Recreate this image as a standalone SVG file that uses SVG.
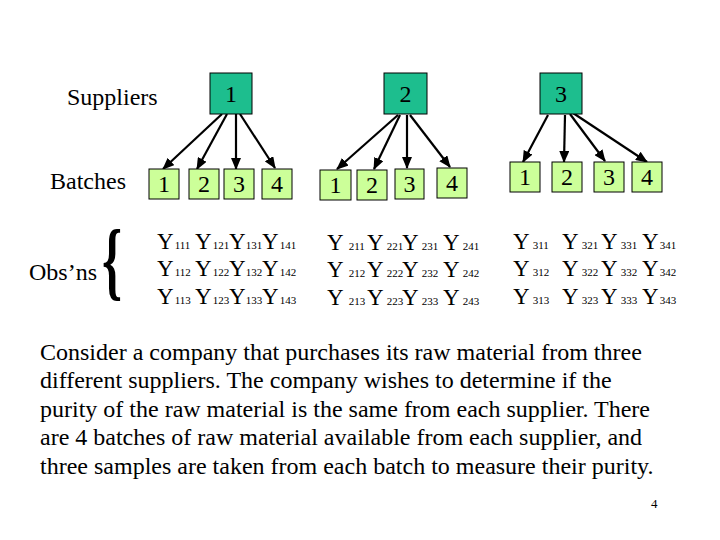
<svg xmlns="http://www.w3.org/2000/svg" width="720" height="540" viewBox="0 0 720 540">
<style>
text{font-family:"Liberation Serif","Times New Roman",serif;fill:#000}
.lbl{font-size:24px}
.num{font-size:24px;text-anchor:middle}
.sup{fill:#1DBE8E;stroke:#000;stroke-width:1}
.bat{fill:#CCFF99;stroke:#000;stroke-width:1}
.y{font-size:23px}
.s{font-size:11px}
.p{font-size:24px}
.arr{stroke:#000;stroke-width:2.2;fill:none;marker-end:url(#ah)}
</style>
<defs>
<marker id="ah" markerUnits="userSpaceOnUse" markerWidth="12" markerHeight="10" refX="11" refY="5" orient="auto">
<path d="M0,0 L12,5 L0,10 Z" fill="#000"/>
</marker>
</defs>
<rect width="720" height="540" fill="#fff"/>
<text class="lbl" x="67" y="105">Suppliers</text>
<text class="lbl" x="50" y="189">Batches</text>
<text class="lbl" x="29" y="280">Obs’ns</text>
<text x="0" y="0" font-size="60" font-weight="bold" transform="translate(102,289) scale(0.85,1.45)">{</text>
<g id="connectors">
<line class="arr" x1="222" y1="114" x2="163" y2="169"/>
<line class="arr" x1="227" y1="114" x2="197" y2="169"/>
<line class="arr" x1="236" y1="114" x2="236" y2="169"/>
<line class="arr" x1="240" y1="114" x2="275" y2="168"/>
<line class="arr" x1="398" y1="115" x2="337" y2="169"/>
<line class="arr" x1="400" y1="115" x2="374" y2="169"/>
<line class="arr" x1="407" y1="115" x2="407" y2="168"/>
<line class="arr" x1="410" y1="115" x2="450" y2="167"/>
<line class="arr" x1="548" y1="115" x2="523" y2="162"/>
<line class="arr" x1="565" y1="115" x2="564" y2="162"/>
<line class="arr" x1="570" y1="114" x2="605" y2="161"/>
<line class="arr" x1="573" y1="113" x2="647" y2="162"/>
</g>
<g id="supplier1"><rect class="sup" x="210" y="73" width="42" height="41"/><text class="num" x="231" y="102">1</text></g>
<g id="supplier2"><rect class="sup" x="384" y="73" width="43" height="41"/><text class="num" x="405.5" y="102">2</text></g>
<g id="supplier3"><rect class="sup" x="540" y="73" width="42" height="41"/><text class="num" x="561" y="102">3</text></g>
<g id="b11"><rect class="bat" x="149" y="169" width="30" height="30"/><text class="num" x="164" y="192">1</text></g>
<g id="b12"><rect class="bat" x="189" y="169" width="30" height="30"/><text class="num" x="204" y="192">2</text></g>
<g id="b13"><rect class="bat" x="224" y="169" width="30" height="30"/><text class="num" x="239" y="192">3</text></g>
<g id="b14"><rect class="bat" x="262" y="169" width="30" height="30"/><text class="num" x="277" y="192">4</text></g>
<g id="b21"><rect class="bat" x="320" y="170" width="31" height="30"/><text class="num" x="335.5" y="193">1</text></g>
<g id="b22"><rect class="bat" x="357" y="170" width="30" height="30"/><text class="num" x="372" y="193">2</text></g>
<g id="b23"><rect class="bat" x="395" y="169" width="29" height="30"/><text class="num" x="409.5" y="192">3</text></g>
<g id="b24"><rect class="bat" x="437" y="168" width="30" height="30"/><text class="num" x="452" y="191">4</text></g>
<g id="b31"><rect class="bat" x="510" y="162" width="30" height="30"/><text class="num" x="525" y="185">1</text></g>
<g id="b32"><rect class="bat" x="552" y="162" width="30" height="30"/><text class="num" x="567" y="185">2</text></g>
<g id="b33"><rect class="bat" x="594" y="162" width="30" height="30"/><text class="num" x="609" y="185">3</text></g>
<g id="b34"><rect class="bat" x="632" y="162" width="30" height="30"/><text class="num" x="647" y="185">4</text></g>
<g id="obs1" class="y">
<text x="157" y="249">Y<tspan class="s" dx="1">111</tspan></text>
<text x="195" y="249">Y<tspan class="s" dx="1">121</tspan></text>
<text x="229" y="249">Y<tspan class="s" dx="0">131</tspan></text>
<text x="262" y="249">Y<tspan class="s" dx="1">141</tspan></text>
<text x="157" y="276">Y<tspan class="s" dx="1">112</tspan></text>
<text x="195" y="276">Y<tspan class="s" dx="1">122</tspan></text>
<text x="229" y="276">Y<tspan class="s" dx="0">132</tspan></text>
<text x="262" y="276">Y<tspan class="s" dx="1">142</tspan></text>
<text x="157" y="304">Y<tspan class="s" dx="1">113</tspan></text>
<text x="195" y="304">Y<tspan class="s" dx="1">123</tspan></text>
<text x="229" y="304">Y<tspan class="s" dx="0">133</tspan></text>
<text x="262" y="304">Y<tspan class="s" dx="1">143</tspan></text>
</g>
<g id="obs2" class="y">
<text x="327" y="250">Y<tspan class="s" dx="5">211</tspan></text>
<text x="367" y="250">Y<tspan class="s" dx="3">221</tspan></text>
<text x="402" y="250">Y<tspan class="s" dx="3">231</tspan></text>
<text x="443" y="250">Y<tspan class="s" dx="3">241</tspan></text>
<text x="327" y="277">Y<tspan class="s" dx="5">212</tspan></text>
<text x="367" y="277">Y<tspan class="s" dx="3">222</tspan></text>
<text x="402" y="277">Y<tspan class="s" dx="3">232</tspan></text>
<text x="443" y="277">Y<tspan class="s" dx="3">242</tspan></text>
<text x="327" y="305">Y<tspan class="s" dx="5">213</tspan></text>
<text x="367" y="305">Y<tspan class="s" dx="3">223</tspan></text>
<text x="402" y="305">Y<tspan class="s" dx="3">233</tspan></text>
<text x="443" y="305">Y<tspan class="s" dx="3">243</tspan></text>
</g>
<g id="obs3" class="y">
<text x="513" y="249">Y<tspan class="s" dx="3">311</tspan></text>
<text x="562" y="249">Y<tspan class="s" dx="3">321</tspan></text>
<text x="601" y="249">Y<tspan class="s" dx="3">331</tspan></text>
<text x="642" y="249">Y<tspan class="s" dx="1">341</tspan></text>
<text x="513" y="276">Y<tspan class="s" dx="3">312</tspan></text>
<text x="562" y="276">Y<tspan class="s" dx="3">322</tspan></text>
<text x="601" y="276">Y<tspan class="s" dx="3">332</tspan></text>
<text x="642" y="276">Y<tspan class="s" dx="1">342</tspan></text>
<text x="513" y="304">Y<tspan class="s" dx="3">313</tspan></text>
<text x="562" y="304">Y<tspan class="s" dx="3">323</tspan></text>
<text x="601" y="304">Y<tspan class="s" dx="3">333</tspan></text>
<text x="642" y="304">Y<tspan class="s" dx="1">343</tspan></text>
</g>
<g id="description" class="p">
<text x="40" y="360">Consider a company that purchases its raw material from three</text>
<text x="40" y="388">different suppliers. The company wishes to determine if the</text>
<text x="40" y="417">purity of the raw material is the same from each supplier. There</text>
<text x="40" y="445">are 4 batches of raw material available from each supplier, and</text>
<text x="40" y="474">three samples are taken from each batch to measure their purity.</text>
</g>
<text x="651" y="508" font-family="'Liberation Sans',Arial,sans-serif" font-size="13">4</text>
</svg>
